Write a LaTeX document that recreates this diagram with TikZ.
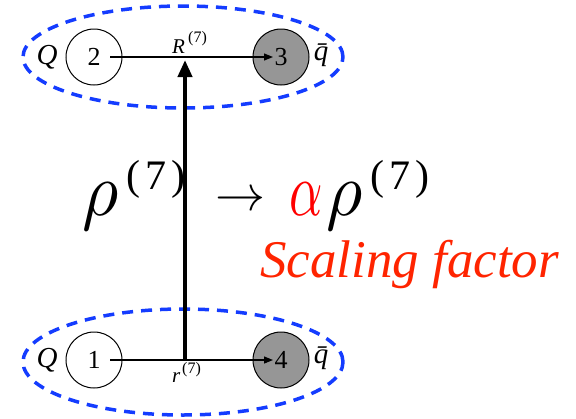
\documentclass[tikz,border=0pt]{standalone}
\usepackage{graphicx}
\usepackage{fontspec}
\setmainfont{Liberation Serif}
\newfontfamily\tnr{Liberation Serif}
\usetikzlibrary{arrows.meta}
\definecolor{dblue}{RGB}{20,60,255}
\definecolor{sred}{RGB}{255,36,0}
\definecolor{ared}{RGB}{255,0,0}
\definecolor{ballgray}{RGB}{150,150,150}
\begin{document}
\begin{tikzpicture}[x=1pt,y=-1pt,
  ball/.style={circle,draw,line width=1pt,minimum size=56pt,inner sep=0pt,font=\tnr\fontsize{26}{26}\selectfont},
  lbl/.style={inner sep=0pt,font=\tnr\fontsize{29}{29}\selectfont\itshape},
  grp/.style={draw=dblue,line width=3.5pt,dash pattern=on 11pt off 8pt},
  thin arrow/.style={line width=1.2pt,-{Triangle[length=9pt,width=7pt]}},
  big arrow/.style={line width=4pt,-{Triangle[length=17pt,width=14pt]}},
  bw/.style={anchor=base west,inner sep=0pt},
  sup/.style={bw,font=\tnr\fontsize{42}{42}\selectfont},
  ssup/.style={bw,font=\tnr\fontsize{16}{16}\selectfont},
  ]
\useasboundingbox (0,0) rectangle (576,418);
% groups
\draw[grp] (183,57) ellipse [x radius=160pt, y radius=51pt];
\draw[grp] (183,362) ellipse [x radius=160pt, y radius=53pt];
% particles
\node[ball] (c2) at (94,57) {2};
\node[ball,fill=ballgray] (c3) at (281,57) {3};
\node[ball] (c1) at (94,360) {1};
\node[ball,fill=ballgray] (c4) at (281,360) {4};
\node[lbl] (q2) at (47,57) {Q};
\node[lbl] (q1) at (47,360) {Q};
\node[lbl] (qb3) at (321,55) {\=q};
\node[lbl] (qb4) at (321,358) {\=q};
% separations
\draw[thin arrow] ([xshift=16pt]c2.center) -- ([xshift=-8pt]c3.center);
\draw[thin arrow] ([xshift=16pt]c1.center) -- ([xshift=-8pt]c4.center);
\node[bw,font=\tnr\fontsize{21}{21}\selectfont\itshape] (R) at (172,53) {R};
\node[ssup] (Rs) at (188,42) {(7)};
\node[bw,font=\tnr\fontsize{21}{21}\selectfont\itshape] (r) at (172,382) {r};
\node[ssup] (rs) at (182,373) {(7)};
% vertical
\coordinate (m1) at (185,360);
\coordinate (m2) at (185,60);
\draw[big arrow] (m1) -- (m2);
% formula
\node[bw] (rhoA) at (82,215) {\scalebox{7}[7.6]{$\rho$}};
\node[sup] (supA) at (126,189) {(\kern5pt7\kern5pt)};
\node[bw] (arr) at (215,210) {\scalebox{5}{$\rightarrow$}};
\node[bw] (alpha) at (289,215) {\scalebox{5.2}[7.6]{$\textcolor{ared}{\alpha}$}};
\node[bw] (rhoB) at (326,215) {\scalebox{7}[7.6]{$\rho$}};
\node[sup] (supB) at (370,189) {(\kern5pt7\kern5pt)};
\node[bw,text=sred,font=\tnr\fontsize{53}{53}\selectfont\itshape] (sf) at (260,277) {Scaling factor};
\end{tikzpicture}
\end{document}
